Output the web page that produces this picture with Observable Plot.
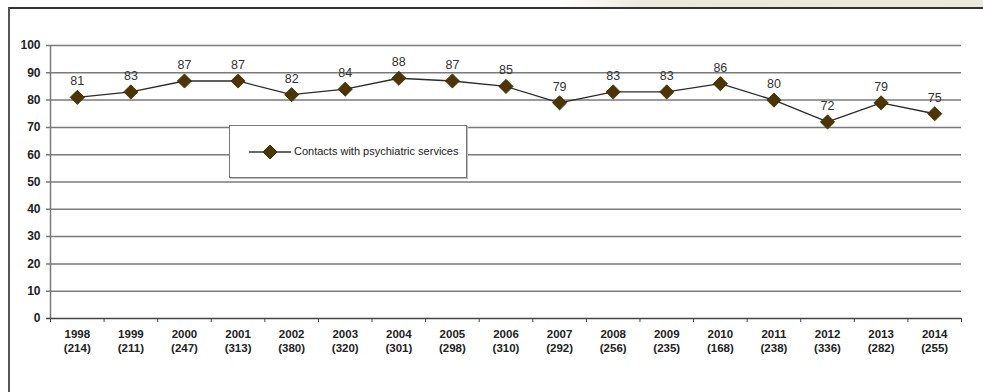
<!DOCTYPE html>
<html>
<head>
<meta charset="utf-8">
<script src="https://cdn.jsdelivr.net/npm/d3@7"></script>
<script src="https://cdn.jsdelivr.net/npm/@observablehq/plot@0.6"></script>
<style>
  html, body { margin: 0; padding: 0; background: #fff; overflow: hidden; width: 983px; height: 392px; }
  #wrap { position: relative; width: 983px; height: 392px; overflow: hidden; font-family: "Liberation Sans", Arial, sans-serif; }
  #strip { position: absolute; left: 0; top: 0; width: 983px; height: 7px;
           background: linear-gradient(to right, #ffffff 0px, #ffffff 560px, #ece9dd 640px, #ebe8dc 983px); }
  #frame { position: absolute; left: 8px; top: 7px; width: 975px; height: 385px;
           border-left: 2px solid #555; border-top: 2px solid #333; box-sizing: border-box; }
  #chart { position: absolute; left: 0; top: 0; line-height: 0; }
  #legend { position: absolute; left: 229px; top: 125px; width: 238px; height: 53px; box-sizing: border-box;
            background: #fff; border: 1px solid #777; box-shadow: 1px 1px 0 #bbb;
            font-size: 11px; color: #222; }
  #legend svg { position: absolute; left: 19px; top: 18px; }
  #legend span { position: absolute; left: 64px; top: 19px; white-space: nowrap; }
</style>
</head>
<body>
<div id="wrap">
  <div id="strip"></div>
  <div id="chart"></div>
  <div id="frame"></div>
  <div id="legend">
    <svg width="44" height="16"><line x1="0" y1="8" x2="42" y2="8" stroke="#333" stroke-width="1.3"/><path d="M21,1 L28,8 L21,15 L14,8 Z" fill="#4b3600" stroke="#3a2a00"/></svg>
    <span id="legendText"></span>
  </div>
</div>
<script>
const years = ["1998","1999","2000","2001","2002","2003","2004","2005","2006","2007","2008","2009","2010","2011","2012","2013","2014"];
const counts = [214,211,247,313,380,320,301,298,310,292,256,235,168,238,336,282,255];
const values = [81,83,87,87,82,84,88,87,85,79,83,83,86,80,72,79,75];
const yTicks = [0,10,20,30,40,50,60,70,80,90,100];
const seriesName = "Contacts with psychiatric services";

document.getElementById("legendText").textContent = seriesName;

const data = years.map((y, i) => ({year: y, idx: i + 0.5, value: values[i], n: counts[i]}));
const boundaries = d3.range(years.length + 1);

const plot = Plot.plot({
  width: 983,
  height: 392,
  marginLeft: 50,
  marginRight: 22,
  marginTop: 45,
  marginBottom: 74,
  style: {fontFamily: "'Liberation Sans', Arial, sans-serif", background: "transparent"},
  x: {type: "linear", domain: [0, years.length]},
  y: {domain: [0, 100]},
  marks: [
    Plot.ruleY(yTicks.filter(d => d > 0), {stroke: "#7a7a7a", strokeWidth: 1.5, strokeOpacity: 1, insetLeft: -4}),
    Plot.ruleX([0], {stroke: "#7a7a7a", strokeWidth: 1.5}),
    Plot.ruleY([0], {stroke: "#444", strokeWidth: 1.5, insetLeft: -4}),
    Plot.axisY({ticks: yTicks, tickSize: 0, tickPadding: 10, fontWeight: "bold", fontSize: 12, fill: "#222", label: null}),
    Plot.axisX({ticks: boundaries, tickSize: 4, tickFormat: () => "", stroke: "#444", label: null}),
    Plot.axisX({ticks: data.map(d => d.idx), tickSize: 0, tickPadding: 9,
      tickFormat: (d) => { const i = Math.round(d - 0.5); return years[i] + "\n(" + counts[i] + ")"; },
      fontWeight: "bold", fontSize: 11.5, fill: "#222", label: null, lineHeight: 1.25}),
    Plot.line(data, {x: "idx", y: "value", stroke: "#2b2b2b", strokeWidth: 1.3}),
    Plot.dot(data, {x: "idx", y: "value", symbol: "diamond2", r: 6.4, fill: "#4b3600", stroke: "#3a2a00", strokeWidth: 0.8}),
    Plot.text(data, {x: "idx", y: "value", text: d => String(d.value), dy: -16, fontSize: 12.5, fill: "#333"})
  ]
});
document.getElementById("chart").appendChild(plot);
</script>
</body>
</html>
